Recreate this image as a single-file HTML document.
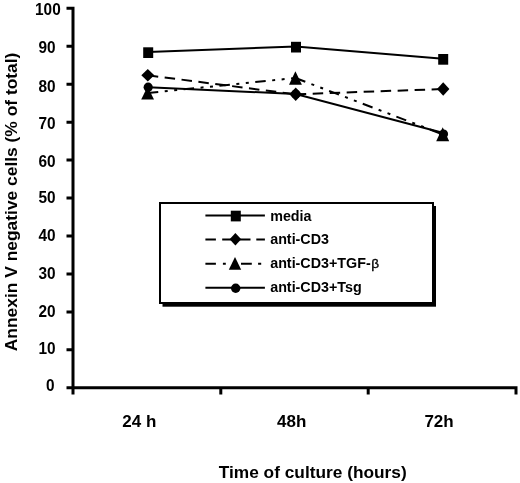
<!DOCTYPE html>
<html><head><meta charset="utf-8">
<style>
html,body{margin:0;padding:0;background:#fff;width:520px;height:483px;overflow:hidden}
svg{display:block;will-change:transform}
text{font-family:"Liberation Sans",sans-serif;font-weight:bold;fill:#000}
</style></head>
<body>
<svg width="520" height="483" viewBox="0 0 520 483" xmlns="http://www.w3.org/2000/svg">
<rect x="0" y="0" width="520" height="483" fill="#fff"/>

<!-- Y axis title -->
<text transform="translate(16.7,351.2) rotate(-90)" font-size="17.4">Annexin V negative cells (% of total)</text>

<!-- Y tick labels -->
<g font-size="15.4" text-anchor="end">
<text transform="translate(60.7,14.8) scale(1,1.045)">100</text>
<text transform="translate(55.7,52.9) scale(1,1.045)">90</text>
<text transform="translate(55.7,91.6) scale(1,1.045)">80</text>
<text transform="translate(55.7,129.0) scale(1,1.045)">70</text>
<text transform="translate(55.7,167.1) scale(1,1.045)">60</text>
<text transform="translate(55.7,203.0) scale(1,1.045)">50</text>
<text transform="translate(55.7,240.9) scale(1,1.045)">40</text>
<text transform="translate(55.7,278.5) scale(1,1.045)">30</text>
<text transform="translate(55.7,316.5) scale(1,1.045)">20</text>
<text transform="translate(55.7,354.4) scale(1,1.045)">10</text>
<text transform="translate(54.6,391.0) scale(1,1.045)">0</text>
</g>

<!-- Axes -->
<g stroke="#000" stroke-width="3" fill="none" stroke-linecap="butt">
<path d="M66.5 8.3H73V394.5"/>
<path d="M66.5 46.25H73M66.5 84.2H73M66.5 122.15H73M66.5 160.1H73M66.5 198.05H73M66.5 236H73M66.5 273.95H73M66.5 311.9H73M66.5 349.85H73M66.5 387.8H73"/>
<path d="M73 387.8H516V394.5"/>
<path d="M220.8 387.8V394.5M368.2 387.8V394.5"/>
</g>

<!-- X tick labels -->
<g font-size="17">
<text x="122.3" y="426.7">24 h</text>
<text x="277.1" y="426.6">48h</text>
<text x="424.4" y="426.7">72h</text>
</g>

<!-- X axis title -->
<text x="218.8" y="478.1" font-size="17.3">Time of culture (hours)</text>

<!-- Series lines -->
<g stroke="#000" stroke-width="2" fill="none">
<!-- media solid -->
<polyline points="148,51.9 295.7,46.6 443,58.8"/>
<!-- anti-CD3 dashed -->
<line x1="147.8" y1="75.3" x2="295.7" y2="94.3" stroke-dasharray="10.5 6.5"/>
<line x1="295.7" y1="94.3" x2="443.2" y2="89" stroke-dasharray="10.5 6.5"/>
<!-- TGF dash-dot-dot -->
<line x1="147.8" y1="93" x2="295.5" y2="78" stroke-dasharray="10.5 6.5 3 6.5 3 6.5"/>
<line x1="295.5" y1="78" x2="442.7" y2="134.3" stroke-dasharray="10.5 6.5 3 6.5 3 6.5"/>
<!-- Tsg solid -->
<polyline points="148.2,87.2 295.7,94 443.5,133"/>
</g>

<!-- Markers -->
<g fill="#000">
<!-- squares -->
<rect x="143.2" y="47.3" width="10" height="10.7"/>
<rect x="291" y="41.8" width="10" height="10.7"/>
<rect x="438.2" y="54" width="10" height="10.7"/>
<!-- diamonds -->
<path d="M147.8 69 L154.3 75.3 L147.8 81.6 L141.3 75.3Z"/>
<path d="M295.7 87.6 L302 94.3 L295.7 101 L289.4 94.3Z"/>
<path d="M443.2 82.3 L449.4 89 L443.2 95.7 L437 89Z"/>
<!-- circles -->
<circle cx="148.2" cy="87.2" r="4.6"/>
<circle cx="295.7" cy="94" r="4.6"/>
<circle cx="443.5" cy="134" r="4.6"/>
<!-- triangles -->
<path d="M147.6 86.6 L154 99.6 L141.2 99.6Z"/>
<path d="M295.4 71.3 L301.9 84.7 L289 84.7Z"/>
<path d="M442.7 127.3 L449.2 141.2 L436.2 141.2Z"/>
</g>

<!-- Legend -->
<rect x="162.5" y="206" width="273.5" height="100.7" fill="#000"/>
<rect x="160" y="203" width="273" height="100" fill="#fff" stroke="#000" stroke-width="2"/>
<g stroke="#000" stroke-width="2" fill="none">
<line x1="205.4" y1="215.6" x2="264.9" y2="215.6"/>
<path d="M205.4 239.4H215.9M222.2 239.4H232.7M239.2 239.4H250.5M256.3 239.4H264.9"/>
<path d="M205.4 263.7H215.9M222.9 263.7H225.8M241 263.7H251.8M258.1 263.7H261.2"/>
<line x1="205.4" y1="287.8" x2="264.9" y2="287.8"/>
</g>
<g fill="#000">
<rect x="230.8" y="210.7" width="10" height="10.7"/>
<path d="M235.4 233.1 L241.2 239.3 L235.4 245.5 L229.6 239.3Z"/>
<path d="M235 257.1 L241.2 269.8 L228.8 269.8Z"/>
<circle cx="235.7" cy="288.3" r="4.7"/>
</g>
<g font-size="14.3">
<text x="270.2" y="220.5">media</text>
<text x="270.2" y="244.1">anti-CD3</text>
<text x="270.2" y="268.4">anti-CD3+TGF-<tspan font-weight="normal" dx="0.6" dy="0" font-size="13.6" stroke="#000" stroke-width="0.35">β</tspan></text>
<text x="270.2" y="292.4">anti-CD3+Tsg</text>
</g>
</svg>
</body></html>
